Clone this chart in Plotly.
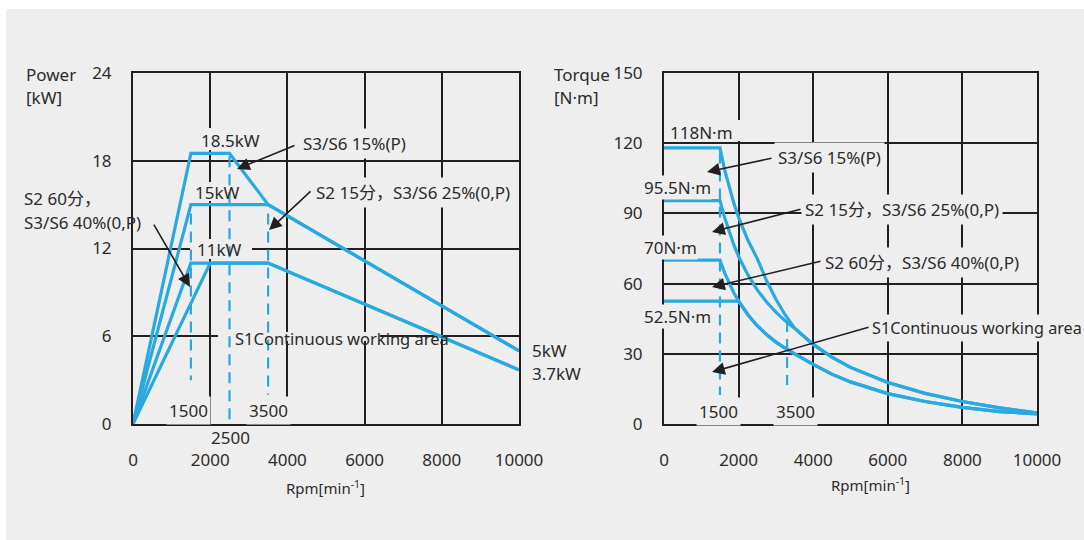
import plotly.graph_objects as go

# ---------------- data ----------------
# Power chart (kW vs rpm)
p_s3_15_rpm = [0, 1500, 2500, 3500, 10000]
p_s3_15_kw = [0, 18.5, 18.5, 15, 5]
p_s2_15_rpm = [0, 1500, 3500, 10000]
p_s2_15_kw = [0, 15, 15, 5]
p_s2_60_rpm = [0, 1500, 3500, 10000]
p_s2_60_kw = [0, 11, 11, 3.7]
p_s1_rpm = [0, 2000, 3500, 10000]
p_s1_kw = [0, 11, 11, 3.7]

# Torque chart (N·m vs rpm)
t_rpm = [0, 1500, 1625, 1750, 1875, 2000, 2250, 2500, 2750, 3000, 3250, 3500,
         4000, 4500, 5000, 6000, 7000, 8000, 9000, 10000]
t_s3_15 = [118, 118, 108.7, 101.0, 94.2, 88.3, 78.5, 70.7, 61.2, 53.3, 46.6, 40.9,
           34.0, 28.6, 24.2, 17.7, 13.1, 9.6, 6.9, 4.8]
t_s2_15 = [95.5, 95.5, 88.2, 81.9, 76.4, 71.6, 63.7, 57.3, 52.1, 47.8, 44.1, 40.9,
           34.0, 28.6, 24.2, 17.7, 13.1, 9.6, 6.9, 4.8]
t_s2_60 = [70, 70, 64.6, 60.0, 56.0, 52.5, 46.7, 42.0, 38.2, 35.0, 32.3, 30.0,
           25.5, 21.3, 18.0, 13.0, 9.6, 7.1, 5.3, 4.3]
t_s1_rpm = [0, 2000, 2250, 2500, 2750, 3000, 3250, 3500, 4000, 4500, 5000, 6000,
            7000, 8000, 9000, 10000]
t_s1 = [52.5, 52.5, 46.7, 42.0, 38.2, 35.0, 32.3, 30.0, 25.5, 21.3, 18.0, 13.0,
        9.6, 7.1, 5.3, 4.3]

# dashed marker lines: (rpm, y_top, y_bottom)
p_dash = [(1500, 14.4, 3.0), (2500, 18.3, 0), (3500, 14.4, 2.0)]
t_dash = [(1500, 116, 12.4), (3300, 44, 16.7)]

x_ticks = [0, 2000, 4000, 6000, 8000, 10000]
x_tick_text = ["0", "2000", "4000", "6000", "8000", "10000"]
p_ticks = [0, 6, 12, 18, 24]
t_ticks = [0, 30, 60, 90, 120, 150]

# ---------------- style ----------------
W, H = 1084, 540
BLUE = "#2aa8e0"
INK = "#231f20"
TXT = "#2b2b2b"
BG = "#eeeeee"
FONT = "Noto Sans, Noto Sans CJK SC, sans-serif"

# plot-area pixel geometry (left, right, top, bottom)
L_BOX = (133, 519, 73, 424)
R_BOX = (664, 1037, 73, 424)


def px(x):
    return x / W


def py(y):
    return 1 - y / H


fig = go.Figure()

for xs, ys in [(p_s3_15_rpm, p_s3_15_kw), (p_s2_15_rpm, p_s2_15_kw),
               (p_s2_60_rpm, p_s2_60_kw), (p_s1_rpm, p_s1_kw)]:
    fig.add_trace(go.Scatter(x=xs, y=ys, mode="lines", line=dict(color=BLUE, width=3.2),
                             xaxis="x", yaxis="y", showlegend=False, hoverinfo="skip"))

for xs, ys in [(t_rpm, t_s3_15), (t_rpm, t_s2_15), (t_rpm, t_s2_60), (t_s1_rpm, t_s1)]:
    fig.add_trace(go.Scatter(x=xs, y=ys, mode="lines", line=dict(color=BLUE, width=3.2),
                             xaxis="x2", yaxis="y2", showlegend=False, hoverinfo="skip"))

for xv, y0, y1 in p_dash:
    fig.add_trace(go.Scatter(x=[xv, xv], y=[y0, y1], mode="lines",
                             line=dict(color=BLUE, width=2.2, dash="11px,7px"),
                             xaxis="x", yaxis="y", showlegend=False, hoverinfo="skip"))
for xv, y0, y1 in t_dash:
    fig.add_trace(go.Scatter(x=[xv, xv], y=[y0, y1], mode="lines",
                             line=dict(color=BLUE, width=2.2, dash="11px,7px"),
                             xaxis="x2", yaxis="y2", showlegend=False, hoverinfo="skip"))

axis_common = dict(showgrid=True, gridcolor=INK, gridwidth=2, showline=True, mirror=True,
                   linecolor=INK, linewidth=2, zeroline=False, ticks="", automargin=False,
                   tickfont=dict(family=FONT, size=17, color=TXT))

fig.update_layout(
    width=W, height=H,
    margin=dict(l=0, r=0, t=0, b=0, autoexpand=False),
    paper_bgcolor="white", plot_bgcolor=BG,
    font=dict(family=FONT, size=17, color=TXT),
    xaxis=dict(domain=[px(L_BOX[0]), px(L_BOX[1])], range=[0, 10000], tickvals=x_ticks,
               ticktext=x_tick_text, anchor="y", ticklabelstandoff=20, **axis_common),
    yaxis=dict(domain=[py(L_BOX[3]), py(L_BOX[2])], range=[0, 24], tickvals=p_ticks,
               anchor="x", ticklabelstandoff=16, **axis_common),
    xaxis2=dict(domain=[px(R_BOX[0]), px(R_BOX[1])], range=[0, 10000], tickvals=x_ticks,
                ticktext=x_tick_text, anchor="y2", ticklabelstandoff=20, **axis_common),
    yaxis2=dict(domain=[py(R_BOX[3]), py(R_BOX[2])], range=[0, 150], tickvals=t_ticks,
                anchor="x2", ticklabelstandoff=16, **axis_common),
)

# grey panel
fig.add_shape(type="rect", xref="paper", yref="paper", x0=px(6), x1=1, y0=0, y1=py(9),
              fillcolor=BG, line=dict(width=0), layer="below")


def gap(side, x0, x1, y0, y1):
    """blank a rectangle (given in pixels) of the grid, keeping the curves above it"""
    if side == "L":
        (l, r, t, b), ymax, xr, yr = L_BOX, 24, "x", "y"
    else:
        (l, r, t, b), ymax, xr, yr = R_BOX, 150, "x2", "y2"
    fx = lambda v: (v - l) / (r - l) * 10000
    fy = lambda v: (b - v) / (b - t) * ymax
    fig.add_shape(type="rect", xref=xr, yref=yr, x0=fx(x0), x1=fx(x1), y0=fy(y1), y1=fy(y0),
                  fillcolor=BG, line=dict(width=0), layer="between")


gap("L", 192, 268, 128, 150)   # 18.5kW
gap("L", 190, 244, 182, 201)   # 15kW
gap("L", 190, 252, 239, 259)   # 11kW
gap("L", 218, 380, 332, 341)   # S1 label
gap("R", 700, 745, 120, 141)   # 118N·m


def text(t, x, y, anchor="left", size=17, bg=True, pad=1):
    fig.add_annotation(text=t, xref="paper", yref="paper", x=px(x), y=py(y),
                       xanchor=anchor, yanchor="middle", showarrow=False, align="left",
                       font=dict(family=FONT, size=size, color=TXT),
                       bgcolor=BG if bg else "rgba(0,0,0,0)", borderpad=pad)


def arrow(xr, yr, tip, tail):
    fig.add_annotation(text="", xref=xr, yref=yr, axref=xr, ayref=yr,
                       x=tip[0], y=tip[1], ax=tail[0], ay=tail[1], showarrow=True,
                       arrowhead=2, arrowsize=1.6, arrowwidth=1.6, arrowcolor=INK, standoff=0)


# left chart texts
text("Power", 24, 75, bg=False)
text("[kW]", 24, 98, bg=False)
text("18.5kW", 230, 140, anchor="center", bg=False)
text("15kW", 217, 192, anchor="center", bg=False)
text("11kW", 219, 249, anchor="center", bg=False)
text("S3/S6 15%(P)", 299, 143, pad=3)
text("S2 15分，S3/S6 25%(0,P)", 312, 192, pad=3)
text("S2 60分，", 22, 198, bg=False)
text("S3/S6 40%(0,P)", 22, 222, bg=False)
text("S1Continuous working area", 233, 338, size=16.5, bg=False)
text("5kW", 530, 350, bg=False)
text("3.7kW", 530, 373, bg=False)
text("1500", 188, 410, anchor="center", pad=2)
text("3500", 268, 410, anchor="center", pad=2)
text("2500", 230, 437, anchor="center", bg=False)
text("Rpm[min<sup>-1</sup>]", 325, 487, anchor="center", size=15, bg=False)

arrow("x", "y", (2694, 17.44), (4223, 19.08))
arrow("x", "y", (3523, 13.26), (4637, 16.0))
arrow("x", "y", (1477, 9.37), (518, 13.74))

# right chart texts
text("Torque", 552, 75, bg=False)
text("[N·m]", 552, 98, bg=False)
text("118N·m", 668, 132, bg=False)
text("95.5N·m", 643, 187, pad=0)
text("70N·m", 643, 247, pad=0)
text("52.5N·m", 643, 316, pad=0)
text("S3/S6 15%(P)", 774, 158, pad=3)
text("S2 15分，S3/S6 25%(0,P)", 801, 209, pad=3)
text("S2 60分，S3/S6 40%(0,P)", 821, 262, pad=3)
text("S1Continuous working area", 869, 328, size=16.2, pad=2)
text("1500", 718, 411, anchor="center", pad=2)
text("3500", 795, 411, anchor="center", pad=2)
text("Rpm[min<sup>-1</sup>]", 870, 484, anchor="center", size=15, bg=False)

arrow("x2", "y2", (1153, 107.7), (2922, 113.7))
arrow("x2", "y2", (1287, 82.1), (3700, 91.9))
arrow("x2", "y2", (1287, 58.5), (4236, 69.7))
arrow("x2", "y2", (1287, 22.2), (5523, 41.5))

fig.write_html("out.html", config={"displayModeBar": False},
               post_script="document.body.style.margin='0';document.body.style.overflow='hidden';")
